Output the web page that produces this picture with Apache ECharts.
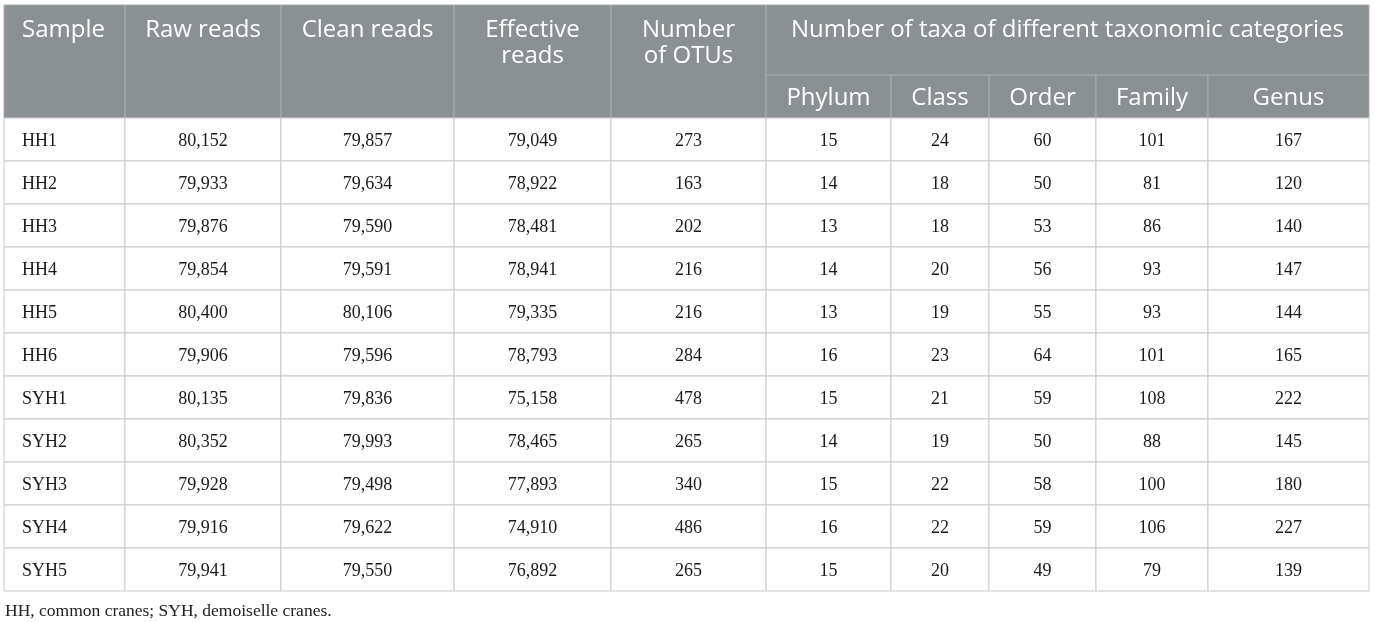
<!DOCTYPE html>
<html>
<head>
<meta charset="utf-8">
<script src="https://cdn.jsdelivr.net/npm/echarts@6/dist/echarts.min.js"></script>
<style>
html,body{margin:0;padding:0;background:#ffffff;}
#chart{width:1375px;height:622px;}
</style>
</head>
<body>
<div id="chart"></div>
<script>
// ---- Data ----
const samples = ['HH1','HH2','HH3','HH4','HH5','HH6','SYH1','SYH2','SYH3','SYH4','SYH5'];
const rawReads = [80152,79933,79876,79854,80400,79906,80135,80352,79928,79916,79941];
const cleanReads = [79857,79634,79590,79591,80106,79596,79836,79993,79498,79622,79550];
const effectiveReads = [79049,78922,78481,78941,79335,78793,75158,78465,77893,74910,76892];
const otuCounts = [273,163,202,216,216,284,478,265,340,486,265];
const phylumCounts = [15,14,13,14,13,16,15,14,15,16,15];
const classCounts = [24,18,18,20,19,23,21,19,22,22,20];
const orderCounts = [60,50,53,56,55,64,59,50,58,59,49];
const familyCounts = [101,81,86,93,93,101,108,88,100,106,79];
const genusCounts = [167,120,140,147,144,165,222,145,180,227,139];

const topHeaders = ['Sample','Raw reads','Clean reads','Effective\nreads','Number\nof OTUs'];
const groupHeader = 'Number of taxa of different taxonomic categories';
const subHeaders = ['Phylum','Class','Order','Family','Genus'];
const footnote = 'HH, common cranes; SYH, demoiselle cranes.';

// ---- Layout (not data) ----
const colWidths = [121,156,173,157,155,125,98,107,112,161];
const headerH = 113, groupH = 70, rowH = 43;
const colEdges = [0];
colWidths.forEach(w => colEdges.push(colEdges[colEdges.length-1] + w));
const totalW = colEdges[colEdges.length-1];
const totalH = headerH + rowH * samples.length;

const fmt = v => typeof v === 'number' ? v.toLocaleString('en-US') : v;
const columns = [samples, rawReads, cleanReads, effectiveReads, otuCounts,
  phylumCounts, classCounts, orderCounts, familyCounts, genusCounts];

// body cells: [col, row, text]
const bodyData = [];
samples.forEach((s, r) => {
  columns.forEach((col, c) => bodyData.push([c, r, fmt(col[r])]));
});
// header cells: [colStart, colEnd(exclusive), level, text]  level 0 = full height, 1 = group top, 2 = sub
const headerData = [];
topHeaders.forEach((t, i) => headerData.push([i, i + 1, 0, t]));
headerData.push([5, 10, 1, groupHeader]);
subHeaders.forEach((t, i) => headerData.push([5 + i, 6 + i, 2, t]));

const HEADER_BG = '#8b9093';
const HEADER_LINE = '#a7abad';
const BODY_LINE = '#c9c9c9';
const sansFont = '"Open Sans", "Noto Sans", sans-serif';
const serifFont = '"Liberation Serif", "DejaVu Serif", serif';
const HEADER_FONT = '24px ' + sansFont;

const chart = echarts.init(document.getElementById('chart'), null, {renderer: 'canvas'});
chart.setOption({
  animation: false,
  backgroundColor: '#ffffff',
  title: {
    text: footnote,
    left: 0, top: 597,
    textStyle: {fontFamily: serifFont, fontSize: 17.5, fontWeight: 'normal', color: '#222'}
  },
  grid: {left: 4, top: 5, width: totalW, height: totalH},
  xAxis: {type: 'value', min: 0, max: totalW, show: false},
  yAxis: {type: 'value', min: 0, max: totalH, inverse: true, show: false},
  series: [
    {
      type: 'custom',
      coordinateSystem: 'cartesian2d',
      data: headerData,
      encode: {x: 0, y: 2},
      renderItem: function (params, api) {
        const c0 = api.value(0), c1 = api.value(1), lvl = api.value(2);
        const text = headerData[params.dataIndex][3];
        let y0, y1;
        if (lvl === 0) { y0 = 0; y1 = headerH; }
        else if (lvl === 1) { y0 = 0; y1 = groupH; }
        else { y0 = groupH; y1 = headerH; }
        const p0 = api.coord([colEdges[c0], y0]);
        const p1 = api.coord([colEdges[c1], y1]);
        const left = c0 === 0;
        const tx = left ? p0[0] + 18 : (p0[0] + p1[0]) / 2;
        const textEl = lvl === 2
          ? {type: 'text', style: {text: text, x: tx, y: (p0[1] + p1[1]) / 2 + 2, align: 'center',
              verticalAlign: 'middle', fill: '#ffffff', font: HEADER_FONT}}
          : {type: 'text', style: {text: text, x: tx, y: p0[1] + 12.5, align: left ? 'left' : 'center',
              verticalAlign: 'top', fill: '#ffffff', font: HEADER_FONT, lineHeight: 26}};
        return {
          type: 'group',
          children: [
            {type: 'rect', shape: {x: p0[0], y: p0[1], width: p1[0] - p0[0], height: p1[1] - p0[1]},
             style: {fill: HEADER_BG, stroke: HEADER_LINE, lineWidth: 1}},
            textEl
          ]
        };
      }
    },
    {
      type: 'custom',
      coordinateSystem: 'cartesian2d',
      data: bodyData,
      encode: {x: 0, y: 1},
      renderItem: function (params, api) {
        const c = api.value(0), r = api.value(1);
        const text = bodyData[params.dataIndex][2];
        const p0 = api.coord([colEdges[c], headerH + r * rowH]);
        const p1 = api.coord([colEdges[c + 1], headerH + (r + 1) * rowH]);
        const left = c === 0;
        return {
          type: 'group',
          children: [
            {type: 'rect', shape: {x: p0[0], y: p0[1], width: p1[0] - p0[0], height: p1[1] - p0[1]},
             style: {fill: '#ffffff', stroke: BODY_LINE, lineWidth: 1}},
            {type: 'text', style: {text: text, x: left ? p0[0] + 18 : (p0[0] + p1[0]) / 2,
              y: (p0[1] + p1[1]) / 2 + 1.5, align: left ? 'left' : 'center', verticalAlign: 'middle',
              fill: '#1a1a1a', font: '18px ' + serifFont}}
          ]
        };
      }
    }
  ]
});
</script>
</body>
</html>
